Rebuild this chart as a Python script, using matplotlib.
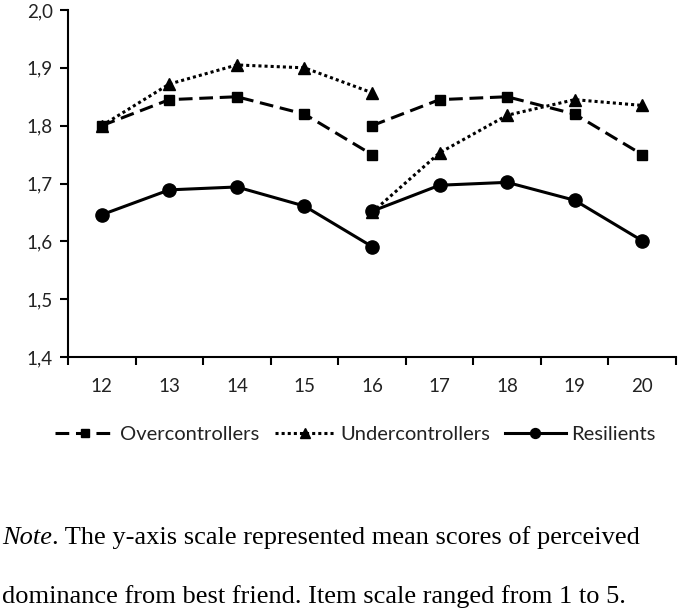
import matplotlib
matplotlib.use("Agg")
import matplotlib.pyplot as plt
from matplotlib.transforms import offset_copy

ages = [12, 13, 14, 15, 16, 17, 18, 19, 20]
tick_labels = ["12", "13", "14", "15", "16", "17", "18", "19", "20"]

# two segments: 12-16 and 16-20
over_a = [1.800, 1.845, 1.850, 1.820, 1.750]
over_b = [1.800, 1.845, 1.850, 1.820, 1.750]
under_a = [1.800, 1.872, 1.905, 1.900, 1.857]
under_b = [1.650, 1.753, 1.818, 1.845, 1.835]
resil_a = [1.646, 1.689, 1.694, 1.661, 1.591]
resil_b = [1.652, 1.697, 1.702, 1.671, 1.601]

seg_a = ages[:5]
seg_b = ages[4:]

W, H = 678, 611
fig = plt.figure(figsize=(W / 100, H / 100), dpi=100)
ax = fig.add_axes([68 / W, 1 - 357 / H, (676 - 68) / W, (357 - 10) / H])

tick_font = "Lato"
lw = 2.2
styles = [
    ("Overcontrollers", over_a, over_b, dict(ls=(0, (4.5, 2.2)), marker="s", ms=7.5)),
    ("Undercontrollers", under_a, under_b, dict(ls=(0, (1, 1)), marker="^", ms=9)),
    ("Resilients", resil_a, resil_b, dict(ls="-", marker="o", ms=9.5)),
]
handles = []
for name, a, b, st in styles:
    h, = ax.plot(seg_a, a, color="black", lw=lw, label=name, **st)
    ax.plot(seg_b, b, color="black", lw=lw, **st)
    handles.append(h)

ax.set_xlim(11.5, 20.5)
ax.set_ylim(1.4, 2.0)
ax.set_xticks([x - 0.5 for x in ages] + [20.5])
ax.set_xticklabels([])
ax.set_xticks(ages, minor=True)
ax.set_xticklabels(tick_labels, minor=True)
ax.tick_params(axis="x", which="minor", length=0, pad=15, labelsize=13.5)
ax.tick_params(axis="x", which="major", length=6, width=1.5, direction="out")
yt = [1.4, 1.5, 1.6, 1.7, 1.8, 1.9, 2.0]
ax.set_yticks(yt)
ax.set_yticklabels([f"{v:.1f}".replace(".", ",") for v in yt])
ax.tick_params(axis="y", length=6, width=1.5, direction="out", labelsize=13.5, pad=5)
for lab in ax.get_xticklabels(minor=True) + ax.get_yticklabels():
    lab.set_fontfamily(tick_font)
    lab.set_color("#222222")

for s in ["top", "right"]:
    ax.spines[s].set_visible(False)
for s in ["left", "bottom"]:
    ax.spines[s].set_linewidth(1.5)

fig.legend(handles=handles, loc="center", bbox_to_anchor=(355 / W, 1 - 434 / H),
           ncol=3, frameon=False, handlelength=3.0, columnspacing=0.75, handletextpad=0.25,
           markerscale=0.75, borderpad=0, borderaxespad=0,
           prop={"family": tick_font, "size": 14.5})
for t in fig.legends[0].get_texts():
    t.set_color("#222222")

note_fs = 19
t1 = fig.text(2 / W, 1 - 544 / H, "Note", family="Liberation Serif", style="italic",
              fontsize=note_fs, va="baseline", ha="left")
fig.canvas.draw()
x1 = t1.get_window_extent().x1
fig.text(0, 0, ". The y-axis scale represented mean scores of perceived",
         family="Liberation Serif", fontsize=note_fs, va="baseline", ha="left",
         transform=offset_copy(fig.transFigure, fig=fig,
                               x=x1 * 72 / 100, y=(H - 544) * 72 / 100, units="points"))
fig.text(2 / W, 1 - 603 / H, "dominance from best friend. Item scale ranged from 1 to 5.",
         family="Liberation Serif", fontsize=note_fs, va="baseline", ha="left")

fig.savefig("out.png", dpi=100, facecolor="white")
